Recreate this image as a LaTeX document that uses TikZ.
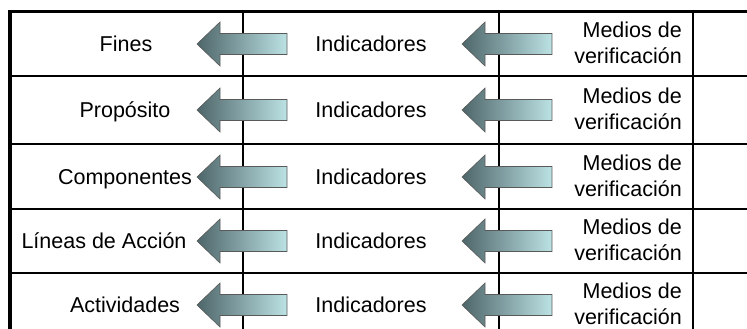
\documentclass[tikz,border=0pt]{standalone}
\usepackage{fontspec}
\setmainfont{Liberation Sans}
\definecolor{arrowdark}{RGB}{78,102,106}
\definecolor{arrowlight}{RGB}{188,226,228}
\begin{document}
\begin{tikzpicture}[x=1pt,y=-1pt,
  lbl/.style={font=\fontsize{21.5}{26}\selectfont, inner sep=0pt, anchor=base},
  mv/.style={font=\fontsize{21.5}{26}\selectfont, inner sep=0pt, align=right, anchor=east},
  blockarrow/.style={draw=black!65, line width=0.6pt, left color=arrowdark, right color=arrowlight},
  leftarr/.pic={\path[blockarrow] (0,0) -- (23,-22) -- (23,-10.5) -- (90,-10.5) -- (90,10.5) -- (23,10.5) -- (23,22) -- cycle;},
  rule/.style={line width=2pt},
  col/.style={line width=1.8pt}]
\useasboundingbox (0,0) rectangle (747,329);

% grid of the matrix
\foreach \y in {76,144,209,273} \draw[rule] (10,\y) -- (747,\y);
\foreach \x in {243,499,693} \draw[col] (\x,12) -- (\x,329);
\draw[line width=3pt] (8,12) -- (747,12);
\draw[line width=4pt] (10,10.5) -- (10,329);

% level names
\node[lbl] (fines) at (126,51.7) {Fines};
\node[lbl] (prop) at (125,117.7) {Propósito};
\node[lbl] (comp) at (125,184.7) {Componentes};
\node[lbl] (lineas) at (104,248.7) {Líneas de Acción};
\node[lbl] (activ) at (125,312.7) {Actividades};

% indicators and means of verification, one row each
\foreach \c/\n in {44/1,110/2,177/3,241/4,305/5}{
  \pic at (197,\c) {leftarr};
  \pic at (462,\c) {leftarr};
  \node[lbl] (ind\n) at (371,\c+7.7) {Indicadores};
  \node[mv] (mv\n) at (682,\c-1) {Medios de\\verificación};
}
\end{tikzpicture}
\end{document}
